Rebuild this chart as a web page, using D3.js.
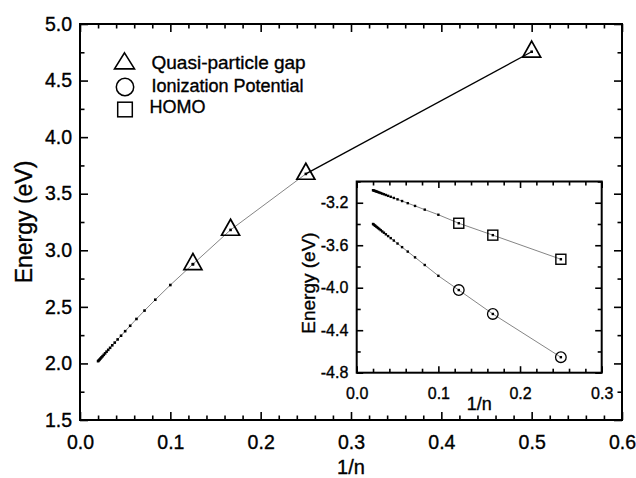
<!DOCTYPE html>
<html><head><meta charset="utf-8">
<script src="https://cdn.jsdelivr.net/npm/d3@7"></script>
<style>body{margin:0;background:#fff} text{stroke:#000;stroke-width:0.35px;fill:#000}</style>
</head><body>
<svg id="c" width="636" height="478"></svg>
<script>
// ---------- data ----------
// 1/n for n = 50, 48, ..., 10, 8 (small extrapolation points)
const invN = [0.02, 0.02083, 0.02174, 0.02273, 0.02381, 0.025, 0.02632, 0.02778, 0.02941, 0.03125, 0.03333, 0.03571, 0.03846, 0.04167, 0.04545, 0.05, 0.05556, 0.0625, 0.07143, 0.08333, 0.1, 0.125];
const gapSmallE = [2.02, 2.027, 2.035, 2.044, 2.054, 2.064, 2.076, 2.089, 2.104, 2.12, 2.138, 2.16, 2.184, 2.212, 2.245, 2.285, 2.333, 2.393, 2.467, 2.563, 2.693, 2.877];
// quasi-particle gap (triangles)
const gapX = [0.125, 0.16667, 0.25, 0.5];
const gapE = [2.877, 3.18, 3.675, 4.755];
// inset series
const insetX = [0.02, 0.02083, 0.02174, 0.02273, 0.02381, 0.025, 0.02632, 0.02778, 0.02941, 0.03125, 0.03333, 0.03571, 0.03846, 0.04167, 0.04545, 0.05, 0.05556, 0.0625, 0.07143, 0.08333, 0.1, 0.125, 0.16667, 0.25];
const homoE = [-3.082, -3.085, -3.087, -3.090, -3.093, -3.096, -3.100, -3.104, -3.109, -3.114, -3.120, -3.127, -3.135, -3.144, -3.155, -3.168, -3.184, -3.204, -3.230, -3.265, -3.313, -3.393, -3.505, -3.732];
const ipE = [-3.400, -3.405, -3.411, -3.417, -3.424, -3.431, -3.439, -3.448, -3.458, -3.470, -3.482, -3.497, -3.514, -3.533, -3.556, -3.584, -3.618, -3.660, -3.714, -3.786, -3.888, -4.022, -4.247, -4.654];
const markerX = [0.125, 0.16667, 0.25];
// ticks
const mainXTicks = [0, 0.1, 0.2, 0.3, 0.4, 0.5, 0.6];
const mainYTicks = [1.5, 2.0, 2.5, 3.0, 3.5, 4.0, 4.5, 5.0];
const insetXTicks = [0, 0.1, 0.2, 0.3];
const insetYTicks = [-4.8, -4.4, -4.0, -3.6, -3.2];
const legendLabels = ["Quasi-particle gap", "Ionization Potential", "HOMO"];

// ---------- drawing ----------
const FONT = "'Liberation Sans', Arial, Helvetica, sans-serif";
const svg = d3.select("#c");
svg.append("rect").attr("width", 636).attr("height", 478).attr("fill", "#fff");

const M = {l: 80, r: 622, t: 24, b: 420};
const x = d3.scaleLinear().domain([0, 0.6]).range([M.l, M.r]);
const y = d3.scaleLinear().domain([1.5, 5.0]).range([M.b, M.t]);

const I = {l: 356.7, r: 601.7, t: 181.5, b: 372.7};
const xi = d3.scaleLinear().domain([0, 0.3]).range([I.l, I.r]);
const yi = d3.scaleLinear().domain([-4.8, -3.0]).range([I.b, I.t]);

const fmt = d => d.toFixed(1);

function minorsOf(domain, step, majors) {
  const out = [];
  const n = Math.round((domain[1] - domain[0]) / step);
  for (let i = 0; i <= n; i++) {
    const v = +(domain[0] + i * step).toFixed(6);
    if (!majors.some(m => Math.abs(m - v) < 1e-6)) out.push(v);
  }
  return out;
}

function frame(g, xs, ys, o) {
  const box = {l: xs.range()[0], r: xs.range()[1], t: ys.range()[1], b: ys.range()[0]};
  const xMin = minorsOf(xs.domain(), o.xMinorStep, o.xTicks);
  const yMin = minorsOf(ys.domain(), o.yMinorStep, o.yTicks);
  const defs = [
    [d3.axisBottom, xs, box.b, "x", true],
    [d3.axisTop, xs, box.t, "x", false],
    [d3.axisLeft, ys, box.l, "y", true],
    [d3.axisRight, ys, box.r, "y", false]
  ];
  defs.forEach(([ax, sc, pos, dir, labeled]) => {
    const majors = dir === "x" ? o.xTicks : o.yTicks;
    const minors = dir === "x" ? xMin : yMin;
    const tr = dir === "x" ? `translate(0,${pos})` : `translate(${pos},0)`;
    const gMaj = g.append("g").attr("transform", tr)
      .call(ax(sc).tickValues(majors).tickSize(-o.major)
        .tickPadding(dir === "x" ? o.xPad : o.yPad)
        .tickFormat(labeled ? fmt : () => ""));
    const gMin = g.append("g").attr("transform", tr)
      .call(ax(sc).tickValues(minors).tickSize(-o.minor).tickFormat(() => ""));
    [gMaj, gMin].forEach(gg => {
      gg.select(".domain").remove();
      gg.selectAll("line").attr("stroke", "#000").attr("stroke-width", 1.6);
      gg.selectAll("text").style("font-family", FONT).style("font-size", o.font + "px");
    });
  });
  g.append("rect").attr("x", box.l).attr("y", box.t)
    .attr("width", box.r - box.l).attr("height", box.b - box.t)
    .attr("fill", "none").attr("stroke", "#000").attr("stroke-width", 2);
}

// main frame
const gMain = svg.append("g");
frame(gMain, x, y, {xTicks: mainXTicks, yTicks: mainYTicks, xMinorStep: 0.02, yMinorStep: 0.25,
  major: 8, minor: 4.5, xPad: 15, yPad: 8, font: 19.5});

// main series: thin line through extrapolation points
const smallPts = invN.map((v, i) => [v, gapSmallE[i]]);
const thinPts = smallPts.concat(gapX.slice(1, 3).map((v, i) => [v, gapE[i + 1]]));
const line = d3.line().x(d => x(d[0])).y(d => y(d[1]));
gMain.append("path").attr("d", line(thinPts)).attr("fill", "none")
  .attr("stroke", "#666").attr("stroke-width", 0.8);
gMain.append("path").attr("d", line([[gapX[2], gapE[2]], [gapX[3], gapE[3]]])).attr("fill", "none")
  .attr("stroke", "#000").attr("stroke-width", 1.3);
// small dots
gMain.selectAll("rect.dot").data(smallPts.concat(gapX.map((v, i) => [v, gapE[i]]))).join("rect")
  .attr("x", d => x(d[0]) - 1.3).attr("y", d => y(d[1]) - 1.3)
  .attr("width", 2.6).attr("height", 2.6).attr("fill", "#000");
// triangles
const triPath = (w, h) => `M0,${-2 * h / 3}L${w / 2},${h / 3}L${-w / 2},${h / 3}Z`;
gMain.selectAll("path.tri").data(gapX.map((v, i) => [v, gapE[i]])).join("path")
  .attr("d", triPath(18, 16))
  .attr("transform", d => `translate(${x(d[0])},${y(d[1])})`)
  .attr("fill", "none").attr("stroke", "#000").attr("stroke-width", 1.7);

// legend
const leg = svg.append("g");
const legY = [62.5, 87, 109.5];
const legBase = [68.5, 91.7, 113.3];
leg.append("path").attr("d", triPath(20, 16)).attr("transform", `translate(124.5,${legY[0] + 1})`)
  .attr("fill", "none").attr("stroke", "#000").attr("stroke-width", 1.6);
leg.append("circle").attr("cx", 125).attr("cy", legY[1]).attr("r", 8.7)
  .attr("fill", "none").attr("stroke", "#000").attr("stroke-width", 1.5);
leg.append("rect").attr("x", 125 - 7.3).attr("y", legY[2] - 7.3).attr("width", 14.6).attr("height", 14.6)
  .attr("fill", "none").attr("stroke", "#000").attr("stroke-width", 1.5);
leg.selectAll("text").data(legendLabels).join("text")
  .attr("x", (d, i) => i === 2 ? 149.5 : 151.5).attr("y", (d, i) => legBase[i])
  .text(d => d).style("font-family", FONT).style("font-size", (d, i) => i === 0 ? "19px" : "18px");

// main axis titles
svg.append("text").attr("transform", `translate(32,${(M.t + M.b) / 2}) rotate(-90)`)
  .attr("text-anchor", "middle").text("Energy (eV)")
  .style("font-family", FONT).style("font-size", "23px");
svg.append("text").attr("x", (M.l + M.r) / 2).attr("y", 474).attr("text-anchor", "middle").text("1/n")
  .style("font-family", FONT).style("font-size", "20px");

// ---------- inset ----------
const gIn = svg.append("g");
gIn.append("rect").attr("x", I.l).attr("y", I.t).attr("width", I.r - I.l).attr("height", I.b - I.t).attr("fill", "#fff");
frame(gIn, xi, yi, {xTicks: insetXTicks, yTicks: insetYTicks, xMinorStep: 0.02, yMinorStep: 0.2,
  major: 6.5, minor: 4, xPad: 15, yPad: 8.4, font: 16});

const lineI = d3.line().x(d => xi(d[0])).y(d => yi(d[1]));
[homoE, ipE].forEach((arr, k) => {
  const pts = insetX.map((v, i) => [v, arr[i]]);
  gIn.append("path").attr("d", lineI(pts)).attr("fill", "none").attr("stroke", "#666").attr("stroke-width", 0.8);
  gIn.selectAll(null).data(pts).join("rect")
    .attr("x", d => xi(d[0]) - 1.2).attr("y", d => yi(d[1]) - 1.2)
    .attr("width", 2.4).attr("height", 2.4).attr("fill", "#000");
  const mk = pts.filter(d => markerX.some(m => Math.abs(m - d[0]) < 1e-4));
  if (k === 0) {
    gIn.selectAll(null).data(mk).join("rect")
      .attr("x", d => xi(d[0]) - 5).attr("y", d => yi(d[1]) - 5)
      .attr("width", 10).attr("height", 10)
      .attr("fill", "none").attr("stroke", "#000").attr("stroke-width", 1.4);
  } else {
    gIn.selectAll(null).data(mk).join("circle")
      .attr("cx", d => xi(d[0])).attr("cy", d => yi(d[1])).attr("r", 5.3)
      .attr("fill", "none").attr("stroke", "#000").attr("stroke-width", 1.3);
  }
});

svg.append("text").attr("transform", `translate(315,283) rotate(-90)`)
  .attr("text-anchor", "middle").text("Energy (eV)")
  .style("font-family", FONT).style("font-size", "19px");
svg.append("text").attr("x", (I.l + I.r) / 2).attr("y", 410).attr("text-anchor", "middle").text("1/n")
  .style("font-family", FONT).style("font-size", "18px");
</script>
</body></html>
